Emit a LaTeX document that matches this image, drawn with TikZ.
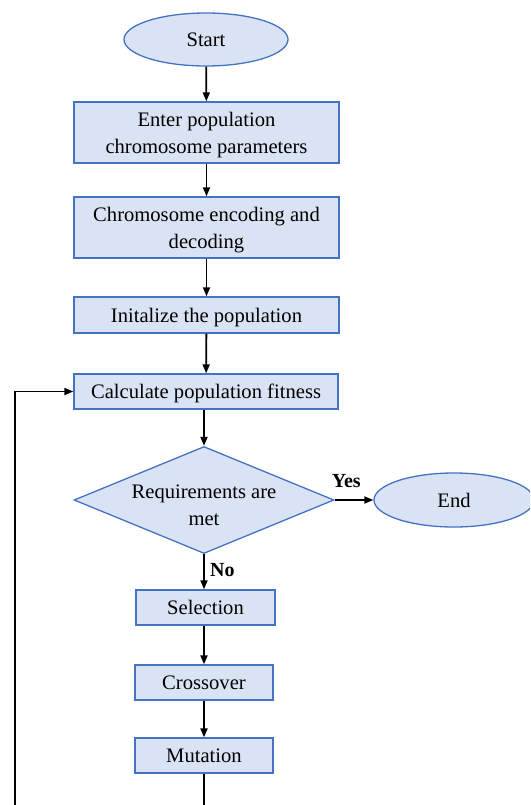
\documentclass[tikz,border=0pt]{standalone}
\usepackage{fontspec}
\setmainfont{Liberation Serif}
\usetikzlibrary{shapes.geometric,arrows.meta}
\definecolor{boxfill}{HTML}{DAE3F3}
\definecolor{boxline}{HTML}{4472C4}
\tikzset{
  txt/.style={font=\fontsize{20.6}{27}\selectfont, text depth=0pt},
  base/.style={draw=boxline, fill=boxfill, line width=1.3pt, inner sep=0pt,
    align=center, txt},
  terminal/.style={base, ellipse, minimum width=164pt, minimum height=53pt},
  process/.style={base, rectangle, minimum height=35pt},
  decision/.style={base, diamond, minimum width=260pt, minimum height=107pt, aspect=2.43},
  arr/.style={line width=1.8pt, -{Triangle[length=9pt,width=7pt]}},
  lbl/.style={font=\fontsize{20}{22}\selectfont\bfseries}
}
\begin{document}
\begin{tikzpicture}[x=1pt,y=-1pt]
  \useasboundingbox (0,0) rectangle (530,805);
  \clip (0,0) rectangle (530,805);

  \node[terminal] (start) at (206,39.5) {Start};
  \node[process, minimum width=265pt, minimum height=61pt] (enter) at (206.5,132.5)
    {Enter population\\chromosome parameters};
  \node[process, minimum width=265pt, minimum height=61pt] (encode) at (206.5,227.5)
    {Chromosome encoding and\\decoding};
  \node[process, minimum width=265pt, minimum height=36pt] (init) at (206.5,315)
    {Initalize the population};
  \node[process, minimum width=264pt] (fit) at (206,391.5)
    {Calculate population fitness};
  \node[decision] (req) at (204,500) {};
  \node[txt, align=center] at (204,505.5)
    {Requirements are\\met};
  \node[terminal, minimum width=160pt, minimum height=54pt] (end) at (454,500) {End};
  \node[process, minimum width=139pt] (sel) at (205.5,607.5) {Selection};
  \node[process, minimum width=138pt] (cross) at (204,682.5) {Crossover};
  \node[process, minimum width=138pt] (mut) at (204,755.5) {Mutation};

  \coordinate (loopcorner) at (15,840);

  \draw[arr] (start) -- (enter);
  \draw[arr] (enter) -- (encode);
  \draw[arr] (encode) -- (init);
  \draw[arr] (init) -- (fit);
  \draw[arr] (fit.south -| req.north) -- (req.north);
  \draw[arr] (req.east) -- node[lbl, above, pos=0.3, yshift=8pt] {Yes} (end.west);
  \draw[arr] (req.south) -- node[lbl, right, pos=0.45, xshift=2pt] {No} (req.south |- sel.north);
  \draw[arr] (sel.south -| cross.north) -- (cross.north);
  \draw[arr] (cross) -- (mut);
  \draw[arr] (mut.south) |- (loopcorner) |- (fit.west);
\end{tikzpicture}
\end{document}
